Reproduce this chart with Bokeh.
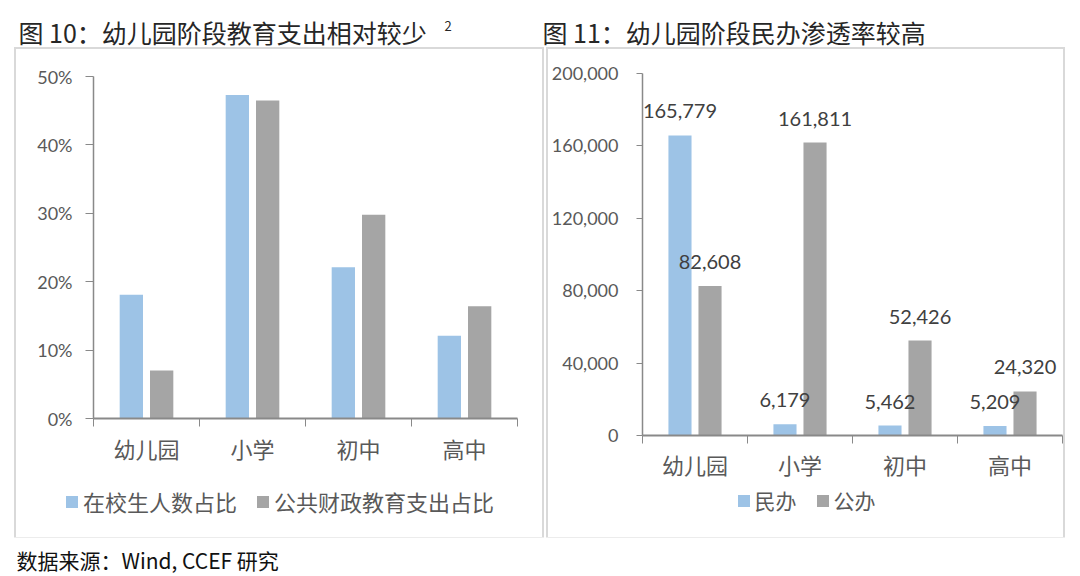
from bokeh.plotting import figure
from bokeh.models import (Range1d, FixedTicker, NumeralTickFormatter, Legend, LegendItem,
                          ColumnDataSource, Spacer)
from bokeh.layouts import column, row
from bokeh.transform import dodge
from bokeh.embed import file_html
from bokeh.resources import INLINE
from bokeh.core.properties import value

# ---------------- data ----------------
categories = ["幼儿园", "小学", "初中", "高中"]
share_students = [0.181, 0.473, 0.221, 0.121]      # 在校生人数占比
share_spending = [0.070, 0.465, 0.298, 0.164]      # 公共财政教育支出占比
private_count = [165779, 6179, 5462, 5209]         # 民办
public_count = [82608, 161811, 52426, 24320]       # 公办
left_ticks = [0, 0.1, 0.2, 0.3, 0.4, 0.5]
right_ticks = [0, 40000, 80000, 120000, 160000, 200000]
left_legend = ["在校生人数占比", "公共财政教育支出占比"]
right_legend = ["民办", "公办"]
title_left = "图 10：幼儿园阶段教育支出相对较少"
title_left_note = "2"
title_right = "图 11：幼儿园阶段民办渗透率较高"
source_note = "数据来源：Wind, CCEF 研究"

BLUE = "#9DC3E6"
GRAY = "#A5A5A5"
AXIS = "#898989"
LABEL = "#595959"
CJK = "Noto Sans CJK SC"
NUM = "Lato"
PAGE_W = 1070
CHART_H = 436
STRIP_H = 52
BORDER = {"outline": "2px solid #d9d9d9"}


def no_align(f):
    try:
        f.frame_align = False
    except Exception:
        pass


def make_chart(width, bl, br, bt, bb, ymax, ticks, fmt, s1, s2,
               ytick_out, ystandoff, xstandoff, labels=False):
    pos = list(range(1, len(categories) + 1))
    src = ColumnDataSource(dict(pos=pos, a=s1, b=s2,
                                a_lab=[f"{v:,}" for v in s1],
                                b_lab=[f"{v:,}" for v in s2]))
    p = figure(width=width, height=CHART_H, output_backend="svg", toolbar_location=None,
               x_range=Range1d(0.5, len(categories) + 0.5), y_range=Range1d(0, ymax),
               min_border_left=bl, min_border_right=br, min_border_top=bt,
               min_border_bottom=bb)
    no_align(p)
    p.outline_line_color = None
    p.grid.visible = False

    p.vbar(x=dodge("pos", -0.143), top="a", width=0.22, bottom=0, source=src,
           fill_color=BLUE, line_color=None)
    p.vbar(x=dodge("pos", 0.143), top="b", width=0.22, bottom=0, source=src,
           fill_color=GRAY, line_color=None)

    if labels:
        for col, lab, off in (("a", "a_lab", -0.143), ("b", "b_lab", 0.143)):
            p.text(x=dodge("pos", off), y=col, text=lab, source=src,
                   text_align="center", text_baseline="middle", y_offset=-24,
                   text_font=value(NUM), text_font_size="20px", text_color="#404040")

    xa = p.xaxis[0]
    xa.ticker = FixedTicker(ticks=pos, minor_ticks=[i + 0.5 for i in range(len(categories) + 1)])
    xa.major_label_overrides = {i + 1: c for i, c in enumerate(categories)}
    xa.major_tick_out = 0
    xa.major_tick_in = 0
    xa.minor_tick_out = 8
    xa.minor_tick_in = 0
    xa.minor_tick_line_color = AXIS
    xa.axis_line_color = AXIS
    xa.axis_line_width = 2
    xa.major_label_standoff = xstandoff
    xa.major_label_text_font = CJK
    xa.major_label_text_font_size = "22px"
    xa.major_label_text_color = LABEL

    ya = p.yaxis[0]
    ya.ticker = FixedTicker(ticks=ticks, minor_ticks=[])
    ya.formatter = NumeralTickFormatter(format=fmt)
    ya.major_tick_out = ytick_out
    ya.major_tick_in = 0
    ya.minor_tick_out = 0
    ya.minor_tick_in = 0
    ya.major_tick_line_color = AXIS
    ya.axis_line_color = AXIS
    ya.axis_line_width = 1.5
    ya.major_label_standoff = ystandoff
    ya.major_label_text_font = NUM
    ya.major_label_text_font_size = "18px"
    ya.major_label_text_color = LABEL
    return p


def make_legend_strip(width, names, font, margin):
    f = figure(width=width, height=STRIP_H, output_backend="svg", toolbar_location=None,
               x_range=Range1d(0, 1), y_range=Range1d(0, 1),
               x_axis_location=None, y_axis_location=None, min_border=0)
    no_align(f)
    f.outline_line_color = None
    f.grid.visible = False
    # zero-size proxies, only used to give the legend its swatches
    r1 = f.vbar(x=[0], top=[0], bottom=[0], width=0, fill_color=BLUE, line_color=None)
    r2 = f.vbar(x=[0], top=[0], bottom=[0], width=0, fill_color=GRAY, line_color=None)
    leg = Legend(items=[LegendItem(label=names[0], renderers=[r1]),
                        LegendItem(label=names[1], renderers=[r2])],
                 orientation="horizontal", location="top",
                 glyph_width=15, glyph_height=15, label_standoff=4, spacing=18,
                 padding=0, margin=margin, border_line_color=None, background_fill_alpha=0,
                 label_text_font=CJK, label_text_font_size=font,
                 label_text_color=LABEL, label_height=22)
    f.add_layout(leg)
    return f


# left panel box: page x 16..542, y 49..537 ; right panel box: page x 548..1063
left_chart = make_chart(526, 77, 25, 27, 67, 0.5, left_ticks, "0%",
                        share_students, share_spending, 8, 13, 5)
right_chart = make_chart(515, 92, 1, 24, 50, 200000, right_ticks, "0,0",
                         private_count, public_count, 6, 18, 4, labels=True)
left_leg = make_legend_strip(526, left_legend, "22px", 0)
right_leg = make_legend_strip(515, right_legend, "21px", 0)

left_panel = column(left_chart, left_leg, styles=BORDER)
right_panel = column(right_chart, right_leg, styles=BORDER)


def text_strip(height):
    f = figure(width=PAGE_W, height=height, output_backend="svg", toolbar_location=None,
               x_range=Range1d(0, PAGE_W), y_range=Range1d(height, 0),
               x_axis_location=None, y_axis_location=None, min_border=0)
    no_align(f)
    f.outline_line_color = None
    f.grid.visible = False
    return f


top = text_strip(49)
top.text(x=[18, 542], y=[31, 31], text=[title_left, title_right],
         text_font=value(CJK), text_font_size="25px", text_baseline="middle",
         text_color="#262626")
top.text(x=[444], y=[25], text=[title_left_note], text_font=value(CJK),
         text_font_size="13px", text_baseline="middle", text_color="#262626")

bottom = text_strip(38)
bottom.text(x=[16], y=[22], text=[source_note], text_font=value(CJK),
            text_font_size="21px", text_baseline="middle", text_color="#111111")

H = CHART_H + STRIP_H
panels = row(Spacer(width=16, height=H), left_panel, Spacer(width=6, height=H), right_panel)
layout = column(top, panels, bottom)
open("out.html", "w").write(file_html(layout, INLINE))
